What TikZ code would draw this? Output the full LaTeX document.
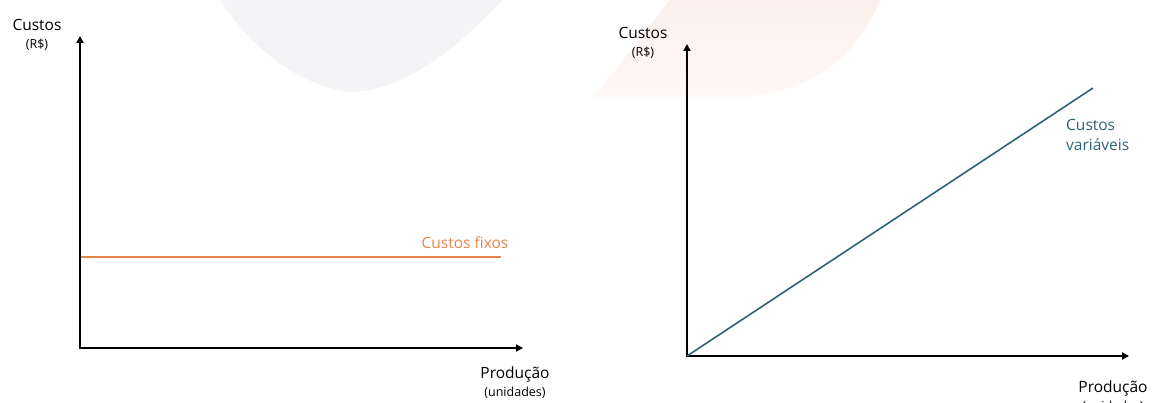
\documentclass[tikz,border=0pt]{standalone}
\usepackage{fontspec}
\setmainfont{Open Sans}
\usetikzlibrary{arrows.meta}
\definecolor{fixo}{HTML}{E8834A}
\definecolor{varc}{HTML}{2E6275}
\definecolor{blob}{HTML}{F4F4F6}
\definecolor{pinkA}{HTML}{FCEFEC}
\definecolor{pinkB}{HTML}{FEF8F7}
\tikzset{
  axis/.style={line width=2pt,-{Triangle[length=7pt,width=7pt]}},
  bigtxt/.style={font=\fontsize{15.5}{18}\selectfont,inner sep=0pt},
  smalltxt/.style={font=\fontsize{12.5}{14}\selectfont,inner sep=0pt},
}
\begin{document}
\begin{tikzpicture}[x=1pt,y=-1pt]
\useasboundingbox (0,0) rectangle (1158,403);
% background watermark shapes
\fill[blob] (220,0) .. controls (240,30) and (280,80) .. (347,92)
  .. controls (400,92) and (450,55) .. (503,0) -- cycle;
\shade[top color=pinkA,bottom color=pinkB] (593,97) .. controls (620,65) and (650,25) .. (670,0)
  -- (880,0) .. controls (860,50) and (820,90) .. (745,97) -- cycle;
% left chart
\coordinate (lo) at (80,348);
\coordinate (ly) at (80,36);
\coordinate (lx) at (523,348);
\draw[axis] (lo) -- (ly);
\draw[axis] ([xshift=-1pt]lo) -- (lx);
\node[bigtxt] (lc) at (37,25) {Custos};
\node[smalltxt] (lr) at (37,45) {(R\$)};
\node[bigtxt] (lp) at (515,374) {Produção};
\node[smalltxt] (lu) at (515,393) {(unidades)};
\coordinate (fa) at (81,257);
\coordinate (fb) at (501,257);
\draw[fixo,line width=1.6pt] (fa) -- (fb);
\node[bigtxt,text=fixo] (lf) at (465,243) {Custos fixos};
% right chart
\coordinate (ro) at (687,356);
\coordinate (ry) at (687,44);
\coordinate (rx) at (1129,356);
\draw[axis] (ro) -- (ry);
\draw[axis] ([xshift=-1pt]ro) -- (rx);
\node[bigtxt] (rc) at (643,33) {Custos};
\node[smalltxt] (rr) at (643,53) {(R\$)};
\node[bigtxt] (rp) at (1113,388) {Produção};
\node[smalltxt] (ru) at (1113,407) {(unidades)};
\coordinate (va) at (1093,88);
\draw[varc,line width=1.6pt] (ro) -- (va);
\node[bigtxt,text=varc,align=left,anchor=north west,font=\fontsize{15.5}{20}\selectfont] (rv) at (1066,119) {Custos\\variáveis};
\end{tikzpicture}
\end{document}
